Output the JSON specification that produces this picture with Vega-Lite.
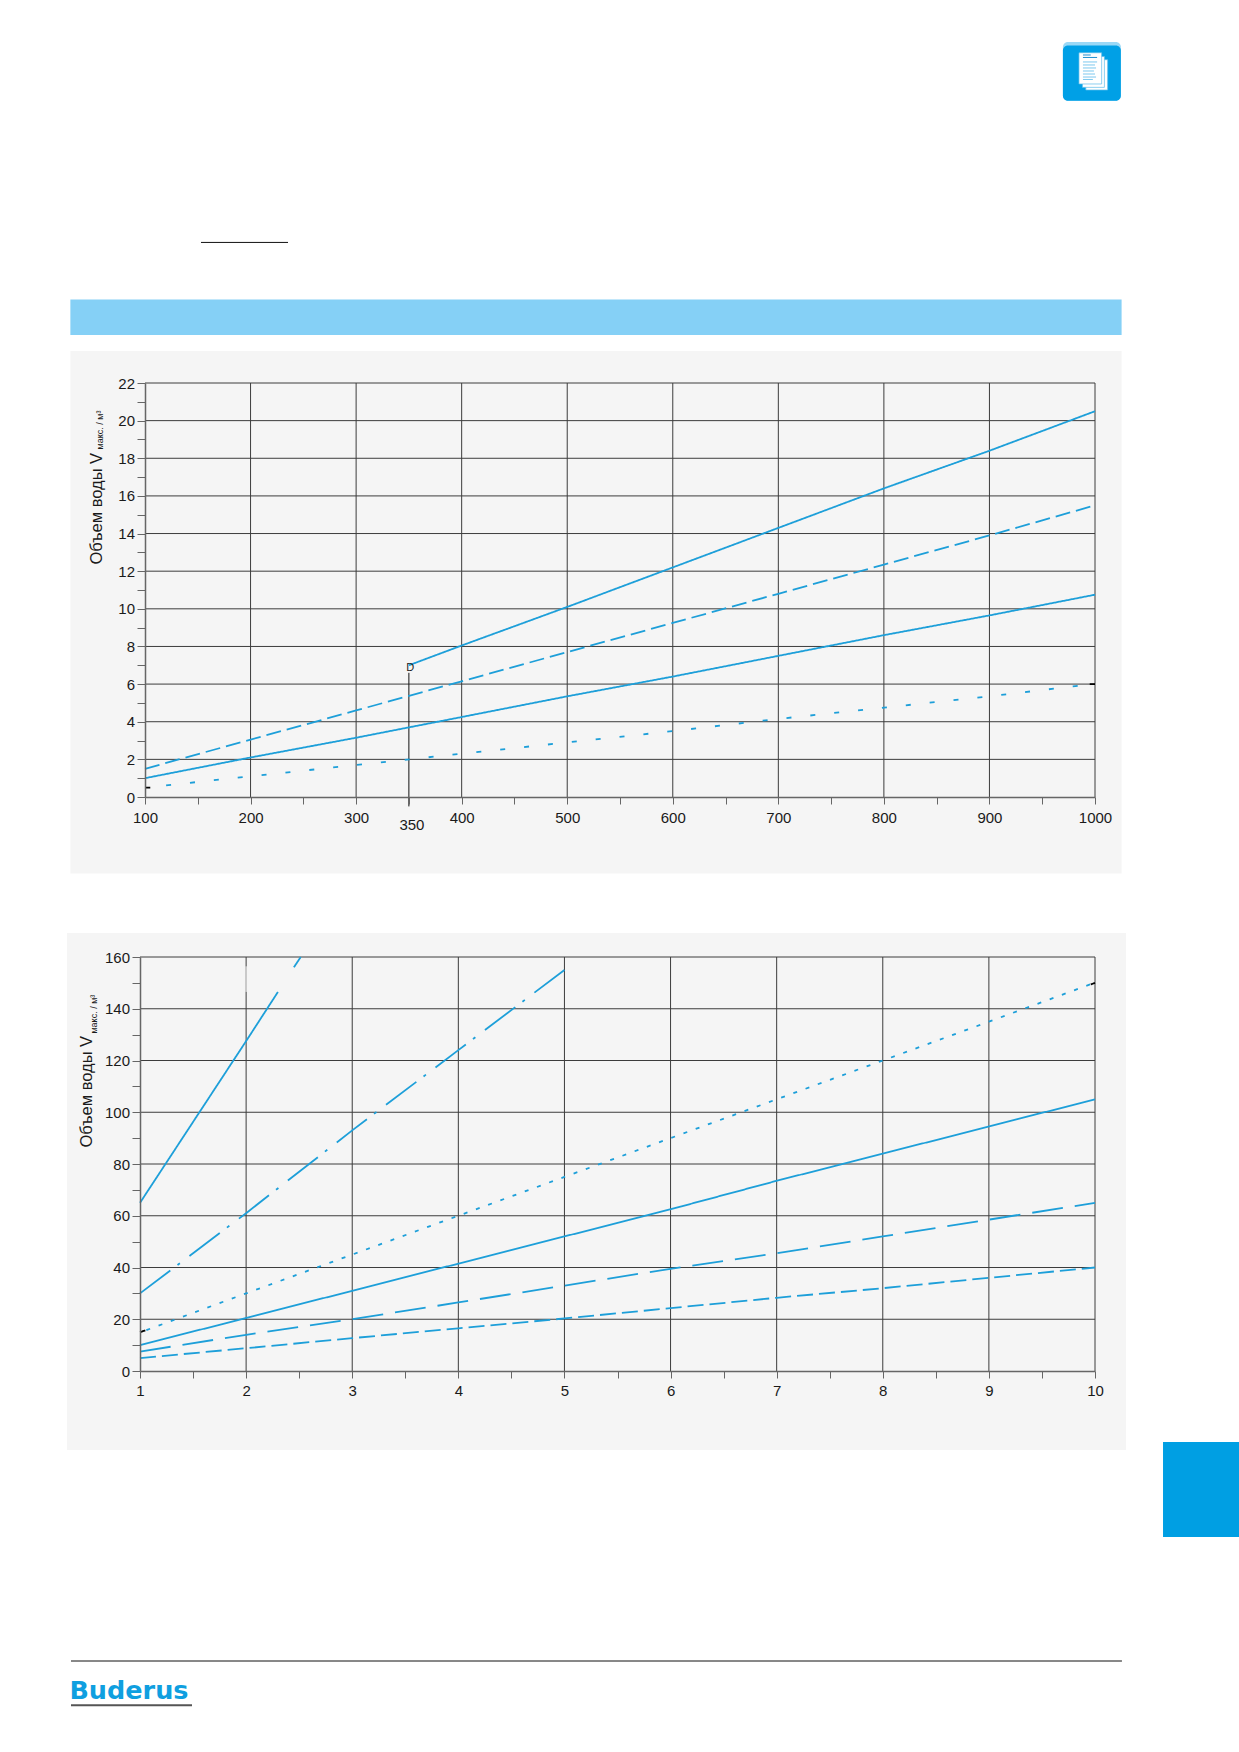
{
  "$schema": "https://vega.github.io/schema/vega-lite/v6.json",
  "background": "#ffffff",
  "padding": 0,
  "spacing": 0,
  "config": {"view": {"stroke": null}, "font": "Liberation Sans"},
  "vconcat": [
    {
      "width": 955,
      "height": 414,
      "resolve": {"scale": {"color": "independent", "fill": "independent", "strokeDash": "independent"}},
      "layer": [
        {
          "data": {"values": [
            {"part": "page", "x": -36.42, "x2": 1137.4, "y": -5.42, "y2": 42.35},
            {"part": "band", "x": 29.3, "x2": 1025.2, "y": 24.55, "y2": 26.44},
            {"part": "panel", "x": 29.3, "x2": 1025.2, "y": -4.07, "y2": 23.7}
          ]},
          "mark": {"type": "rect"},
          "encoding": {
            "x": {"field": "x", "type": "quantitative"},
            "x2": {"field": "x2"},
            "y": {"field": "y", "type": "quantitative"},
            "y2": {"field": "y2"},
            "color": {"field": "part", "type": "nominal", "legend": null, "scale": {"domain": ["page", "band", "panel"], "range": ["#ffffff", "#85d0f6", "#f5f5f5"]}}
          }
        },
        {
          "data": {"values": [
            {"part": "edge", "x": 969.6, "x2": 1024.5, "y": 37.0, "y2": 40.12},
            {"part": "face", "x": 969.6, "x2": 1024.5, "y": 37.0, "y2": 39.93}
          ]},
          "mark": {"type": "rect", "cornerRadius": 5},
          "encoding": {
            "x": {"field": "x", "type": "quantitative"},
            "x2": {"field": "x2"},
            "y": {"field": "y", "type": "quantitative"},
            "y2": {"field": "y2"},
            "fill": {"field": "part", "type": "nominal", "legend": null, "scale": {"domain": ["edge", "face"], "range": ["#9ad8f6", "#00a0e6"]}}
          }
        },
        {
          "data": {"values": [
            {"x": 991.3, "x2": 1012.0, "y": 37.57, "y2": 39.18},
            {"x": 988.1, "x2": 1008.9, "y": 37.71, "y2": 39.35},
            {"x": 984.8, "x2": 1006.3, "y": 37.89, "y2": 39.55}
          ]},
          "mark": {"type": "rect", "fill": "#ffffff", "stroke": "#5dbbea", "strokeWidth": 0.7},
          "encoding": {
            "x": {"field": "x", "type": "quantitative"},
            "x2": {"field": "x2"},
            "y": {"field": "y", "type": "quantitative"},
            "y2": {"field": "y2"}
          }
        },
        {
          "data": {"values": [
            {"part": "icon", "x": 988.6, "x2": 996, "y": 39.43, "y2": 39.43},
            {"part": "icon", "x": 988.6, "x2": 1002, "y": 39.3, "y2": 39.3},
            {"part": "iconlight", "x": 988.6, "x2": 1002, "y": 39.06, "y2": 39.06},
            {"part": "iconlight", "x": 988.6, "x2": 1000, "y": 38.9, "y2": 38.9},
            {"part": "iconlight", "x": 988.6, "x2": 1001, "y": 38.74, "y2": 38.74},
            {"part": "iconlight", "x": 988.6, "x2": 999, "y": 38.58, "y2": 38.58},
            {"part": "iconlight", "x": 988.6, "x2": 1000, "y": 38.42, "y2": 38.42},
            {"part": "iconlight", "x": 988.6, "x2": 1001, "y": 38.26, "y2": 38.26},
            {"part": "iconlight", "x": 988.6, "x2": 998, "y": 38.13, "y2": 38.13},
            {"part": "black", "x": 153.05, "x2": 235.5, "y": 29.47, "y2": 29.47},
            {"part": "grid", "x": 200, "x2": 200, "y": 0, "y2": 22},
            {"part": "grid", "x": 300, "x2": 300, "y": 0, "y2": 22},
            {"part": "grid", "x": 400, "x2": 400, "y": 0, "y2": 22},
            {"part": "grid", "x": 500, "x2": 500, "y": 0, "y2": 22},
            {"part": "grid", "x": 600, "x2": 600, "y": 0, "y2": 22},
            {"part": "grid", "x": 700, "x2": 700, "y": 0, "y2": 22},
            {"part": "grid", "x": 800, "x2": 800, "y": 0, "y2": 22},
            {"part": "grid", "x": 900, "x2": 900, "y": 0, "y2": 22},
            {"part": "grid", "x": 1000, "x2": 1000, "y": 0, "y2": 22},
            {"part": "grid", "x": 100, "x2": 1000, "y": 2, "y2": 2},
            {"part": "grid", "x": 100, "x2": 1000, "y": 4, "y2": 4},
            {"part": "grid", "x": 100, "x2": 1000, "y": 6, "y2": 6},
            {"part": "grid", "x": 100, "x2": 1000, "y": 8, "y2": 8},
            {"part": "grid", "x": 100, "x2": 1000, "y": 10, "y2": 10},
            {"part": "grid", "x": 100, "x2": 1000, "y": 12, "y2": 12},
            {"part": "grid", "x": 100, "x2": 1000, "y": 14, "y2": 14},
            {"part": "grid", "x": 100, "x2": 1000, "y": 16, "y2": 16},
            {"part": "grid", "x": 100, "x2": 1000, "y": 18, "y2": 18},
            {"part": "grid", "x": 100, "x2": 1000, "y": 20, "y2": 20},
            {"part": "grid", "x": 100, "x2": 1000, "y": 22, "y2": 22},
            {"part": "black", "x": 350, "x2": 350, "y": -0.5, "y2": 6.6}
          ]},
          "mark": {"type": "rule", "strokeWidth": 1},
          "encoding": {
            "x": {"field": "x", "type": "quantitative"},
            "x2": {"field": "x2"},
            "y": {"field": "y", "type": "quantitative"},
            "y2": {"field": "y2"},
            "color": {"field": "part", "type": "nominal", "legend": null, "scale": {"domain": ["grid", "black", "icon", "iconlight"], "range": ["#3c3c3c", "#111111", "#1e8fd0", "#7cc8ef"]}}
          }
        },
        {
          "data": {"values": [
            {"series": "solid high", "q": 350, "v": 7},
            {"series": "solid high", "q": 400, "v": 8.05},
            {"series": "solid high", "q": 500, "v": 10.1},
            {"series": "solid high", "q": 600, "v": 12.2},
            {"series": "solid high", "q": 700, "v": 14.3},
            {"series": "solid high", "q": 800, "v": 16.4},
            {"series": "solid high", "q": 900, "v": 18.4},
            {"series": "solid high", "q": 1000, "v": 20.5},
            {"series": "dashed", "q": 100, "v": 1.5},
            {"series": "dashed", "q": 200, "v": 3.05},
            {"series": "dashed", "q": 300, "v": 4.6},
            {"series": "dashed", "q": 400, "v": 6.15},
            {"series": "dashed", "q": 500, "v": 7.7},
            {"series": "dashed", "q": 600, "v": 9.25},
            {"series": "dashed", "q": 700, "v": 10.8},
            {"series": "dashed", "q": 800, "v": 12.35},
            {"series": "dashed", "q": 900, "v": 13.9},
            {"series": "dashed", "q": 1000, "v": 15.5},
            {"series": "solid low", "q": 100, "v": 1},
            {"series": "solid low", "q": 200, "v": 2.1},
            {"series": "solid low", "q": 300, "v": 3.15},
            {"series": "solid low", "q": 400, "v": 4.25},
            {"series": "solid low", "q": 500, "v": 5.35},
            {"series": "solid low", "q": 600, "v": 6.4},
            {"series": "solid low", "q": 700, "v": 7.5},
            {"series": "solid low", "q": 800, "v": 8.6},
            {"series": "solid low", "q": 900, "v": 9.65},
            {"series": "solid low", "q": 1000, "v": 10.75},
            {"series": "dotted", "q": 120, "v": 0.62},
            {"series": "dotted", "q": 200, "v": 1.1},
            {"series": "dotted", "q": 300, "v": 1.7},
            {"series": "dotted", "q": 400, "v": 2.3},
            {"series": "dotted", "q": 500, "v": 2.9},
            {"series": "dotted", "q": 600, "v": 3.5},
            {"series": "dotted", "q": 700, "v": 4.15},
            {"series": "dotted", "q": 800, "v": 4.75},
            {"series": "dotted", "q": 900, "v": 5.35},
            {"series": "dotted", "q": 990, "v": 5.95},
            {"series": "end a", "q": 100, "v": 0.5},
            {"series": "end a", "q": 105, "v": 0.5},
            {"series": "end b", "q": 995, "v": 6},
            {"series": "end b", "q": 1000, "v": 6}
          ]},
          "mark": {"type": "line", "strokeWidth": 1.8},
          "encoding": {
            "x": {
              "field": "q",
              "type": "quantitative",
              "scale": {"domain": [100, 1000], "range": [5, 955], "nice": false, "zero": false},
              "axis": {
                "title": null,
                "values": [100, 150, 200, 250, 300, 350, 400, 450, 500, 550, 600, 650, 700, 750, 800, 850, 900, 950, 1000],
                "tickCount": 100,
                "labelExpr": "datum.value % 100 == 0 ? datum.label : ''",
                "format": "d",
                "grid": false,
                "zindex": 1,
                "labelFont": "Liberation Sans",
                "labelFontSize": 15,
                "labelColor": "#1a1a1a",
                "labelOverlap": false,
                "labelFlush": false,
                "labelPadding": 6,
                "tickSize": 7,
                "tickColor": "#666666",
                "domainColor": "#666666",
                "domainWidth": 1.5
              }
            },
            "y": {
              "field": "v",
              "type": "quantitative",
              "scale": {"domain": [0, 22], "nice": false, "zero": false},
              "axis": {
                "title": "Объем воды V",
                "titleFont": "Liberation Sans",
                "titleFontSize": 16.5,
                "titleFontWeight": "normal",
                "titleColor": "#1a1a1a",
                "titleAlign": "left",
                "titleBaseline": "alphabetic",
                "titleX": -44,
                "titleY": 181,
                "offset": -5,
                "values": [0, 1, 2, 3, 4, 5, 6, 7, 8, 9, 10, 11, 12, 13, 14, 15, 16, 17, 18, 19, 20, 21, 22],
                "tickCount": 100,
                "format": "d",
                "labelExpr": "datum.value % 2 == 0 ? datum.label : ''",
                "grid": false,
                "zindex": 1,
                "labelFont": "Liberation Sans",
                "labelFontSize": 15,
                "labelColor": "#1a1a1a",
                "labelOverlap": false,
                "labelFlush": false,
                "labelPadding": 2.5,
                "tickSize": 8,
                "tickColor": "#666666",
                "domainColor": "#666666",
                "domainWidth": 1.5
              }
            },
            "color": {"field": "series", "type": "nominal", "legend": null, "scale": {"domain": ["solid high", "dashed", "solid low", "dotted", "end a", "end b"], "range": ["#1d9fd9", "#1d9fd9", "#1d9fd9", "#1d9fd9", "#000000", "#000000"]}},
            "strokeDash": {"field": "series", "type": "nominal", "legend": null, "scale": {"domain": ["solid high", "dashed", "solid low", "dotted", "end a", "end b"], "range": [[1, 0], [15, 6], [1, 0], [5, 19], [1, 0], [1, 0]]}}
          }
        },
        {
          "data": {"values": [{"label": "350", "x": 352.9, "y": -1.47}]},
          "mark": {"type": "text", "font": "Liberation Sans", "fontSize": 15, "fill": "#1a1a1a", "align": "center", "baseline": "middle"},
          "encoding": {
            "x": {"field": "x", "type": "quantitative"},
            "y": {"field": "y", "type": "quantitative"},
            "text": {"field": "label"}
          }
        },
        {
          "data": {"values": [{"label": "D", "x": 351.2, "y": 6.84}]},
          "mark": {"type": "text", "font": "Liberation Sans", "fontSize": 11, "fill": "#1a1a1a", "align": "center", "baseline": "middle"},
          "encoding": {
            "x": {"field": "x", "type": "quantitative"},
            "y": {"field": "y", "type": "quantitative"},
            "text": {"field": "label"}
          }
        },
        {
          "data": {"values": [{"label": "макс. / м³", "x": 60, "y": 18.47}]},
          "mark": {"type": "text", "font": "Liberation Sans", "fontSize": 9, "fill": "#1a1a1a", "align": "left", "baseline": "alphabetic", "angle": 270},
          "encoding": {
            "x": {"field": "x", "type": "quantitative"},
            "y": {"field": "y", "type": "quantitative"},
            "text": {"field": "label"}
          }
        }
      ]
    },
    {
      "width": 955,
      "height": 414,
      "resolve": {"scale": {"color": "independent", "strokeDash": "independent"}},
      "layer": [
        {
          "data": {"values": [
            {"part": "page", "x": -0.31, "x2": 11.367, "y": -147.64, "y2": 182.03},
            {"part": "panel", "x": 0.312, "x2": 10.292, "y": -30.5, "y2": 169.3},
            {"part": "tab", "x": 10.641, "x2": 11.367, "y": -64.15, "y2": -27.44},
            {"part": "logoline", "x": 0.3497, "x2": 1.49, "y": -129.6, "y2": -128.8}
          ]},
          "mark": {"type": "rect"},
          "encoding": {
            "x": {"field": "x", "type": "quantitative"},
            "x2": {"field": "x2"},
            "y": {"field": "y", "type": "quantitative"},
            "y2": {"field": "y2"},
            "color": {"field": "part", "type": "nominal", "legend": null, "scale": {"domain": ["page", "panel", "tab", "logoline"], "range": ["#ffffff", "#f5f5f5", "#009fe3", "#555555"]}}
          }
        },
        {
          "data": {"values": [
            {"part": "grid", "x": 2, "x2": 2, "y": 0, "y2": 160},
            {"part": "grid", "x": 3, "x2": 3, "y": 0, "y2": 160},
            {"part": "grid", "x": 4, "x2": 4, "y": 0, "y2": 160},
            {"part": "grid", "x": 5, "x2": 5, "y": 0, "y2": 160},
            {"part": "grid", "x": 6, "x2": 6, "y": 0, "y2": 160},
            {"part": "grid", "x": 7, "x2": 7, "y": 0, "y2": 160},
            {"part": "grid", "x": 8, "x2": 8, "y": 0, "y2": 160},
            {"part": "grid", "x": 9, "x2": 9, "y": 0, "y2": 160},
            {"part": "grid", "x": 10, "x2": 10, "y": 0, "y2": 160},
            {"part": "grid", "x": 1, "x2": 10, "y": 20, "y2": 20},
            {"part": "grid", "x": 1, "x2": 10, "y": 40, "y2": 40},
            {"part": "grid", "x": 1, "x2": 10, "y": 60, "y2": 60},
            {"part": "grid", "x": 1, "x2": 10, "y": 80, "y2": 80},
            {"part": "grid", "x": 1, "x2": 10, "y": 100, "y2": 100},
            {"part": "grid", "x": 1, "x2": 10, "y": 120, "y2": 120},
            {"part": "grid", "x": 1, "x2": 10, "y": 140, "y2": 140},
            {"part": "grid", "x": 1, "x2": 10, "y": 160, "y2": 160},
            {"part": "gap", "x": 2, "x2": 2, "y": 146.5, "y2": 156.4},
            {"part": "black", "x": 0.3497, "x2": 10.254, "y": -112.08, "y2": -112.08}
          ]},
          "mark": {"type": "rule", "strokeWidth": 1},
          "encoding": {
            "x": {"field": "x", "type": "quantitative"},
            "x2": {"field": "x2"},
            "y": {"field": "y", "type": "quantitative"},
            "y2": {"field": "y2"},
            "color": {"field": "part", "type": "nominal", "legend": null, "scale": {"domain": ["grid", "gap", "black"], "range": ["#3c3c3c", "#f5f5f5", "#111111"]}},
            "strokeWidth": {"field": "part", "type": "nominal", "legend": null, "scale": {"domain": ["grid", "gap", "black"], "range": [1, 3, 1.2]}}
          }
        },
        {
          "data": {"values": [
            {"series": "steep a", "q": 1, "v": 65},
            {"series": "steep a", "q": 2, "v": 127.5},
            {"series": "steep a", "q": 2.3, "v": 146.5},
            {"series": "steep b", "q": 2.45, "v": 156},
            {"series": "steep b", "q": 2.515, "v": 160},
            {"series": "dash dot", "q": 1, "v": 30},
            {"series": "dash dot", "q": 2, "v": 61},
            {"series": "dash dot", "q": 3, "v": 93},
            {"series": "dash dot", "q": 4, "v": 124},
            {"series": "dash dot", "q": 5, "v": 155},
            {"series": "dotted", "q": 1.06, "v": 15.8},
            {"series": "dotted", "q": 2, "v": 30},
            {"series": "dotted", "q": 3, "v": 45},
            {"series": "dotted", "q": 4, "v": 60},
            {"series": "dotted", "q": 5, "v": 75},
            {"series": "dotted", "q": 6, "v": 90},
            {"series": "dotted", "q": 7, "v": 105},
            {"series": "dotted", "q": 8, "v": 120},
            {"series": "dotted", "q": 9, "v": 135},
            {"series": "dotted", "q": 9.96, "v": 149.5},
            {"series": "solid", "q": 1, "v": 10},
            {"series": "solid", "q": 2, "v": 20.5},
            {"series": "solid", "q": 3, "v": 31},
            {"series": "solid", "q": 4, "v": 41.5},
            {"series": "solid", "q": 5, "v": 52},
            {"series": "solid", "q": 6, "v": 62.5},
            {"series": "solid", "q": 7, "v": 73.5},
            {"series": "solid", "q": 8, "v": 84},
            {"series": "solid", "q": 9, "v": 94.5},
            {"series": "solid", "q": 10, "v": 105},
            {"series": "long dash", "q": 1, "v": 7.5},
            {"series": "long dash", "q": 2, "v": 14},
            {"series": "long dash", "q": 3, "v": 20},
            {"series": "long dash", "q": 4, "v": 26.5},
            {"series": "long dash", "q": 5, "v": 33},
            {"series": "long dash", "q": 6, "v": 39.5},
            {"series": "long dash", "q": 7, "v": 45.5},
            {"series": "long dash", "q": 8, "v": 52},
            {"series": "long dash", "q": 9, "v": 58.5},
            {"series": "long dash", "q": 10, "v": 65},
            {"series": "short dash", "q": 1, "v": 5},
            {"series": "short dash", "q": 2, "v": 8.8},
            {"series": "short dash", "q": 3, "v": 12.7},
            {"series": "short dash", "q": 4, "v": 16.5},
            {"series": "short dash", "q": 5, "v": 20.3},
            {"series": "short dash", "q": 6, "v": 24.3},
            {"series": "short dash", "q": 7, "v": 28.3},
            {"series": "short dash", "q": 8, "v": 32},
            {"series": "short dash", "q": 9, "v": 36},
            {"series": "short dash", "q": 10, "v": 40},
            {"series": "end a", "q": 1, "v": 15},
            {"series": "end a", "q": 1.05, "v": 15.7},
            {"series": "end b", "q": 9.96, "v": 149.4},
            {"series": "end b", "q": 10, "v": 150}
          ]},
          "mark": {"type": "line", "strokeWidth": 1.8},
          "encoding": {
            "x": {
              "field": "q",
              "type": "quantitative",
              "scale": {"domain": [1, 10], "nice": false, "zero": false},
              "axis": {
                "title": null,
                "values": [1, 1.5, 2, 2.5, 3, 3.5, 4, 4.5, 5, 5.5, 6, 6.5, 7, 7.5, 8, 8.5, 9, 9.5, 10],
                "tickCount": 100,
                "labelExpr": "datum.value % 1 == 0 ? format(datum.value, 'd') : ''",
                "grid": false,
                "zindex": 1,
                "labelFont": "Liberation Sans",
                "labelFontSize": 15,
                "labelColor": "#1a1a1a",
                "labelOverlap": false,
                "labelFlush": false,
                "labelPadding": 5,
                "tickSize": 7,
                "tickColor": "#666666",
                "domainColor": "#666666",
                "domainWidth": 1.5
              }
            },
            "y": {
              "field": "v",
              "type": "quantitative",
              "scale": {"domain": [0, 160], "nice": false, "zero": false},
              "axis": {
                "title": "Объем воды V",
                "titleFont": "Liberation Sans",
                "titleFontSize": 16.5,
                "titleFontWeight": "normal",
                "titleColor": "#1a1a1a",
                "titleAlign": "left",
                "titleBaseline": "alphabetic",
                "titleX": -49,
                "titleY": 190,
                "values": [0, 10, 20, 30, 40, 50, 60, 70, 80, 90, 100, 110, 120, 130, 140, 150, 160],
                "tickCount": 100,
                "format": "d",
                "labelExpr": "datum.value % 20 == 0 ? datum.label : ''",
                "grid": false,
                "zindex": 1,
                "labelFont": "Liberation Sans",
                "labelFontSize": 15,
                "labelColor": "#1a1a1a",
                "labelOverlap": false,
                "labelFlush": false,
                "labelPadding": 2.5,
                "tickSize": 8,
                "tickColor": "#666666",
                "domainColor": "#666666",
                "domainWidth": 1.5
              }
            },
            "color": {"field": "series", "type": "nominal", "legend": null, "scale": {"domain": ["steep a", "steep b", "dash dot", "dotted", "solid", "long dash", "short dash", "end a", "end b"], "range": ["#1d9fd9", "#1d9fd9", "#1d9fd9", "#1d9fd9", "#1d9fd9", "#1d9fd9", "#1d9fd9", "#000000", "#000000"]}},
            "strokeDash": {"field": "series", "type": "nominal", "legend": null, "scale": {"domain": ["steep a", "steep b", "dash dot", "dotted", "solid", "long dash", "short dash", "end a", "end b"], "range": [[1, 0], [1, 0], [38, 9, 3, 12], [4, 9], [1, 0], [31, 12], [16, 6], [1, 0], [1, 0]]}}
          }
        },
        {
          "data": {"values": [{"label": "макс. / м³", "x": 0.595, "y": 130.4}]},
          "mark": {"type": "text", "font": "Liberation Sans", "fontSize": 9, "fill": "#1a1a1a", "align": "left", "baseline": "alphabetic", "angle": 270},
          "encoding": {
            "x": {"field": "x", "type": "quantitative"},
            "y": {"field": "y", "type": "quantitative"},
            "text": {"field": "label"}
          }
        },
        {
          "data": {"values": [{"label": "Buderus", "x": 0.335, "y": -126.76}]},
          "mark": {"type": "text", "font": "DejaVu Sans", "fontWeight": "bold", "fontSize": 25.5, "fill": "#0f9fe0", "align": "left", "baseline": "alphabetic"},
          "encoding": {
            "x": {"field": "x", "type": "quantitative"},
            "y": {"field": "y", "type": "quantitative"},
            "text": {"field": "label"}
          }
        }
      ]
    }
  ]
}
